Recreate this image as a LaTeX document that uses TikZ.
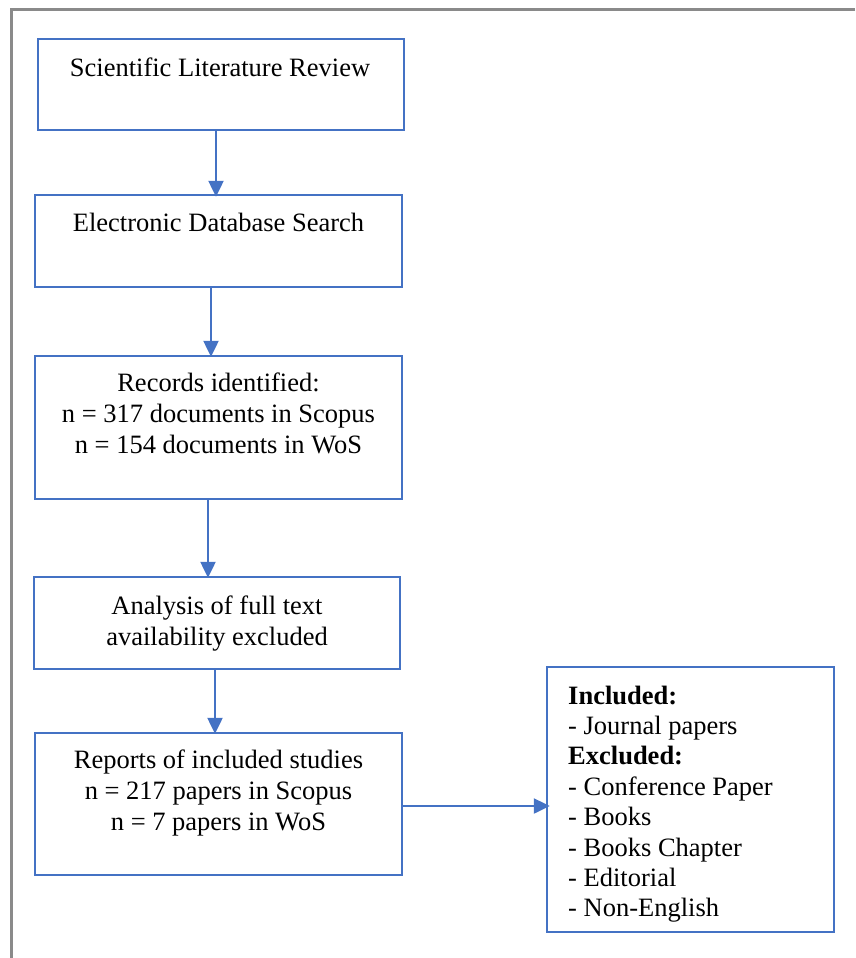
\documentclass[tikz,border=0pt]{standalone}
\usepackage{fontspec}
\setmainfont{Liberation Serif}
\usetikzlibrary{arrows.meta}
\definecolor{boxblue}{HTML}{4472C4}
\definecolor{framegray}{HTML}{8A8A8A}
\tikzset{
  boxnode/.style={draw=boxblue, line width=2.5pt, minimum width=#1, inner sep=0pt},
  txt/.style={inner sep=0pt, font=\fontsize{26.5}{31}\selectfont},
  txtsix/.style={inner sep=0pt, font=\fontsize{26.5}{30.4}\selectfont},
  arr/.style={draw=boxblue, line width=2.5pt, -{Triangle[length=16pt,width=15pt]}}
}
\begin{document}
\begin{tikzpicture}[x=1pt,y=-1pt]
\useasboundingbox (0,0) rectangle (855,958);
% outer frame (top and left edges visible)
\draw[framegray, line width=2.5pt] (855,9.5) -- (11.5,9.5) -- (11.5,958);
% boxes
\node[boxnode=366pt, minimum height=91pt] (b1) at (221,84.5) {};
\node[boxnode=367pt, minimum height=92pt] (b2) at (218.5,241) {};
\node[boxnode=367pt, minimum height=143pt] (b3) at (218.5,427.5) {};
\node[boxnode=366pt, minimum height=92pt] (b4) at (217,623) {};
\node[boxnode=367pt, minimum height=142pt] (b5) at (218.5,804) {};
\node[boxnode=287pt, minimum height=265pt] (b6) at (690.5,799.5) {};
% texts
\node[txt, anchor=base] (t1) at (220,76) {Scientific Literature Review};
\node[txt, anchor=base] (t2) at (218.5,231) {Electronic Database Search};
\node[txt, anchor=base] (t3) at (218.5,391) {\begin{tabular}[t]{@{}c@{}}Records identified:\\ n = 317 documents in Scopus\\ n = 154 documents in WoS\end{tabular}};
\node[txt, anchor=base] (t4) at (217,614) {\begin{tabular}[t]{@{}c@{}}Analysis of full text\\ availability excluded\end{tabular}};
\node[txt, anchor=base] (t5) at (218.5,768) {\begin{tabular}[t]{@{}c@{}}Reports of included studies\\ n = 217 papers in Scopus\\ n = 7 papers in WoS\end{tabular}};
\node[txtsix, anchor=base west] (t6) at (568,704) {\begin{tabular}[t]{@{}l@{}}\textbf{Included:}\\ - Journal papers\\ \textbf{Excluded:}\\ - Conference Paper\\ - Books\\ - Books Chapter\\ - Editorial\\ - Non-English\end{tabular}};
% connectors
\draw[arr, shorten >=-3pt] ([xshift=-5pt]b1.south) -- ([xshift=-2.5pt]b2.north);
\draw[arr, shorten >=-2pt] ([xshift=-7.5pt]b2.south) -- ([xshift=-7.5pt]b3.north);
\draw[arr, shorten >=-2pt] ([xshift=-10.5pt]b3.south) -- ([xshift=-9pt]b4.north);
\draw[arr, shorten >=-2pt] ([xshift=-2pt]b4.south) -- ([xshift=-3.5pt]b5.north);
\draw[arr, shorten >=-4pt] ([yshift=-2pt]b5.east) -- ([yshift=-6.5pt]b6.west);
\end{tikzpicture}
\end{document}
